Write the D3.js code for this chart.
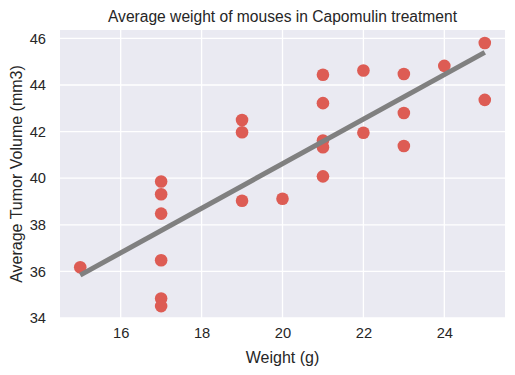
<!DOCTYPE html>
<html>
<head>
<meta charset="utf-8">
<script src="https://cdn.jsdelivr.net/npm/d3@7"></script>
<style>
  body { margin: 0; background: #fff; }
  text { font-family: "Liberation Sans", Arial, sans-serif; fill: #262626; }
</style>
</head>
<body>
<svg id="chart"></svg>
<script>
// mouse weight (g) vs average tumor volume (mm3)
const weights = [15, 17, 17, 17, 17, 17, 17, 19, 19, 19, 20, 21, 21, 21, 21, 21, 22, 22, 23, 23, 23, 24, 25, 25]
const volumes = [36.18, 39.86, 39.31, 38.48, 36.48, 34.84, 34.51, 42.50, 41.97, 39.03, 39.12, 44.44, 43.22, 41.62, 41.33, 40.08, 44.62, 41.95, 44.47, 42.80, 41.38, 44.82, 45.80, 43.36]
const fitWeights = [15, 25]
const fitVolumes = [35.84, 45.40]
const xTicks = [16, 18, 20, 22, 24]
const yTicks = [34, 36, 38, 40, 42, 44, 46]

const width = 515
const height = 375
const margin = {top: 30, right: 10, bottom: 57, left: 60}
const font = "Liberation Sans, Arial, sans-serif"

const svg = d3.select("#chart")
    .attr("width", width)
    .attr("height", height)

const x = d3.scaleLinear()
    .domain([14.5, 25.5])
    .range([margin.left, width - margin.right])

const y = d3.scaleLinear()
    .domain([34, 46.36])
    .range([height - margin.bottom, margin.top])

// plot background
svg.append("rect")
    .attr("x", margin.left)
    .attr("y", margin.top)
    .attr("width", width - margin.left - margin.right)
    .attr("height", height - margin.top - margin.bottom)
    .attr("fill", "#EAEAF2")

// grid
svg.append("g")
    .selectAll("line")
    .data(xTicks)
    .join("line")
    .attr("x1", d => x(d))
    .attr("x2", d => x(d))
    .attr("y1", margin.top)
    .attr("y2", height - margin.bottom)
    .attr("stroke", "white")
    .attr("stroke-width", 1.3)

svg.append("g")
    .selectAll("line")
    .data(yTicks)
    .join("line")
    .attr("x1", margin.left)
    .attr("x2", width - margin.right)
    .attr("y1", d => y(d))
    .attr("y2", d => y(d))
    .attr("stroke", "white")
    .attr("stroke-width", 1.3)

// axes (labels only, seaborn style)
const xAxis = svg.append("g")
    .attr("transform", `translate(0,${height - margin.bottom})`)
    .call(d3.axisBottom(x).tickValues(xTicks).tickSize(0).tickPadding(10))
xAxis.select(".domain").remove()
xAxis.selectAll("text")
    .attr("font-size", 14.7)
    .attr("font-family", font)
    .attr("fill", "#262626")

const yAxis = svg.append("g")
    .attr("transform", `translate(${margin.left},0)`)
    .call(d3.axisLeft(y).tickValues(yTicks).tickSize(0).tickPadding(14))
yAxis.select(".domain").remove()
yAxis.selectAll("text")
    .attr("font-size", 14.7)
    .attr("font-family", font)
    .attr("fill", "#262626")

// points
const points = weights.map((w, i) => ({w: w, v: volumes[i]}))
svg.append("g")
    .selectAll("circle")
    .data(points)
    .join("circle")
    .attr("cx", d => x(d.w))
    .attr("cy", d => y(d.v))
    .attr("r", 6.3)
    .attr("fill", "#DD5C54")

// regression line
const fit = fitWeights.map((w, i) => [w, fitVolumes[i]])
svg.append("path")
    .datum(fit)
    .attr("d", d3.line().x(d => x(d[0])).y(d => y(d[1])))
    .attr("stroke", "#808080")
    .attr("stroke-width", 5)
    .attr("fill", "none")

// titles
svg.append("text")
    .text("Average weight of mouses in Capomulin treatment")
    .attr("x", (margin.left + width - margin.right) / 2)
    .attr("y", 21.5)
    .attr("text-anchor", "middle")
    .attr("font-size", 15.6)

svg.append("text")
    .text("Weight (g)")
    .attr("x", (margin.left + width - margin.right) / 2)
    .attr("y", 363)
    .attr("text-anchor", "middle")
    .attr("font-size", 16)

svg.append("text")
    .text("Average Tumor Volume (mm3)")
    .attr("transform", `translate(22,${(margin.top + height - margin.bottom) / 2}) rotate(-90)`)
    .attr("text-anchor", "middle")
    .attr("font-size", 16)
</script>
</body>
</html>
